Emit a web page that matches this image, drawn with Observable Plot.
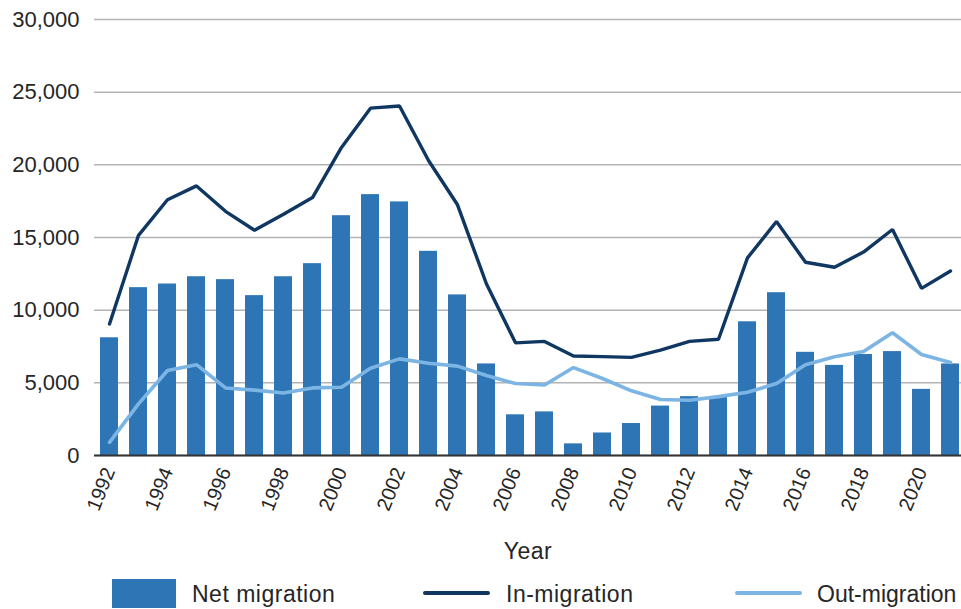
<!DOCTYPE html>
<html>
<head>
<meta charset="utf-8">
<script src="https://cdn.jsdelivr.net/npm/d3@7"></script>
<script src="https://cdn.jsdelivr.net/npm/@observablehq/plot@0.6"></script>
<style>
  html, body { margin: 0; padding: 0; background: #fff; overflow: hidden; }
  #chart { width: 961px; }
  .legend { position: relative; width: 961px; height: 39px; font-family: "Liberation Sans", Arial, sans-serif; font-size: 23px; letter-spacing: 0.5px; color: #262626; overflow: hidden; }
  .legend .sw { position: absolute; }
  .legend .lb { position: absolute; white-space: nowrap; line-height: 1; }
</style>
</head>
<body>
<div id="chart"></div>
<script>
const years = [1992,1993,1994,1995,1996,1997,1998,1999,2000,2001,2002,2003,2004,2005,2006,2007,2008,2009,2010,2011,2012,2013,2014,2015,2016,2017,2018,2019,2020,2021];
const netMigration = [8100,11550,11800,12300,12100,11000,12300,13200,16500,17950,17450,14050,11050,6300,2800,3000,800,1550,2200,3400,4050,4000,9200,11200,7100,6200,6950,7150,4550,6300];
const inMigration = [9050,15150,17600,18550,16800,15500,16600,17750,21200,23900,24050,20300,17250,11800,7750,7850,6850,6800,6750,7250,7850,8000,13600,16100,13300,12950,14000,15550,11500,12700];
const outMigration = [900,3550,5850,6250,4650,4500,4300,4650,4700,6000,6650,6350,6150,5500,4950,4850,6050,5300,4450,3850,3800,4050,4350,4950,6250,6800,7150,8450,6950,6400];
const yTicks = [0,5000,10000,15000,20000,25000,30000];
const xTickLabels = years.filter(y => y % 2 === 0);
const seriesNames = ["Net migration","In-migration","Out-migration"];
const colors = ["#2e75b6","#0f3762","#7cb5e4"];

const rows = years.map((y, i) => ({year: y, net: netMigration[i], inm: inMigration[i], out: outMigration[i]}));

const W = 961, H = 570, ML = 94, MT = 19, MB = 115;
const plot = Plot.plot({
  width: W,
  height: H,
  marginLeft: ML,
  marginRight: 0,
  marginTop: MT,
  marginBottom: MB,
  style: {fontFamily: "'Liberation Sans', Arial, sans-serif", fontSize: "22px", color: "#262626", background: "#fff", overflow: "hidden"},
  x: {type: "band", domain: years, range: [ML + 0.5, ML + 0.5 + 29 * 30], paddingInner: 0.38, paddingOuter: 0.19, align: 0.5, round: false},
  y: {domain: [0, 30000]},
  marks: [
    Plot.gridY(yTicks, {stroke: "#b3b3b3", strokeOpacity: 1, strokeWidth: 1.5}),
    Plot.barY(rows, {x: "year", y: "net", fill: colors[0]}),
    Plot.ruleY([0], {stroke: "#333", strokeWidth: 2}),
    Plot.lineY(rows, {x: "year", y: "inm", stroke: colors[1], strokeWidth: 3.4, strokeLinejoin: "miter"}),
    Plot.lineY(rows, {x: "year", y: "out", stroke: colors[2], strokeWidth: 3.6, strokeLinejoin: "miter"}),
    Plot.axisY(yTicks, {tickSize: 0, tickPadding: 15, tickFormat: d3.format(","), label: null, fontSize: 22}),
    Plot.axisX(xTickLabels, {tickSize: 0, tickPadding: 13, tickRotate: -68, tickFormat: d => String(d), label: null, fontSize: 20}),
    Plot.text(["Year"], {frameAnchor: "bottom", dy: 103, lineAnchor: "bottom", fontSize: 23})
  ]
});
document.getElementById("chart").appendChild(plot);
plot.querySelectorAll("text").forEach(t => { if (t.textContent === "Year") t.setAttribute("letter-spacing", "0.5"); });

const legend = document.createElement("div");
legend.className = "legend";
legend.innerHTML = `
  <div class="sw" style="left:112px;top:9px;width:64px;height:29px;background:${colors[0]}"></div>
  <div class="lb" style="left:192px;top:13px">${seriesNames[0]}</div>
  <div class="sw" style="left:423px;top:21px;width:67px;height:4px;border-radius:2px;background:${colors[1]}"></div>
  <div class="lb" style="left:506px;top:13px">${seriesNames[1]}</div>
  <div class="sw" style="left:735px;top:21px;width:67px;height:4px;border-radius:2px;background:${colors[2]}"></div>
  <div class="lb" style="left:817px;top:13px;letter-spacing:0">${seriesNames[2]}</div>`;
document.body.appendChild(legend);
</script>
</body>
</html>
